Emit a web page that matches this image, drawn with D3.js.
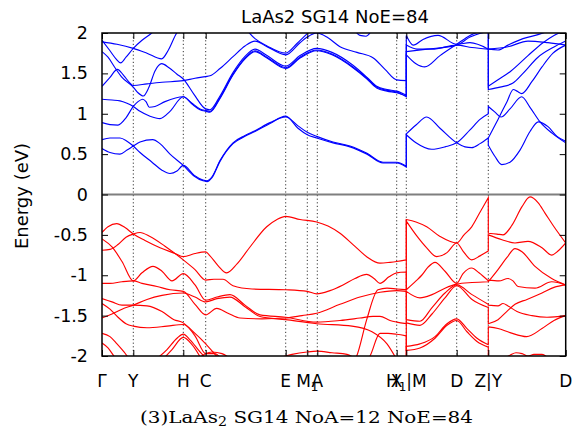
<!DOCTYPE html>
<html><head><meta charset="utf-8">
<script src="https://cdn.jsdelivr.net/npm/d3@7"></script>
<style>body{margin:0;background:#fff}svg{display:block}</style>
</head><body><svg id="chart" width="576" height="438"></svg>
<script>
// k-path positions (arbitrary path units) and labels
const kTicks = [0, 31.3, 81.3, 103.7, 183.7, 205.3, 215.3, 294.7, 304.3, 354.7, 386.3, 463.7];
const kLabels = ["Γ", "Y", "H", "C", "E", "M_1", "A", "X", "H_1|M", "D", "Z|Y", "D"];
const yTicks = [-2, -1.5, -1, -0.5, 0, 0.5, 1, 1.5, 2];
const yTickLabels = ["-2", "-1.5", "-1", "-0.5", "0", "0.5", "1", "1.5", "2"];

// conduction bands (eV), points [k, E]; equal consecutive k = discontinuity
const c1 = [[0,0.57],[8,0.52],[18,0.50],[25,0.55],[31.3,0.60],[38,0.65],[50.7,0.68],[58,0.63],[68,0.50],[81.3,0.36],[92,0.23],[101,0.17],[105,0.16],[110,0.21],[118,0.41],[131,0.63],[143,0.72],[153,0.78],[168,0.88],[183.7,0.97],[196,0.82],[205.3,0.74],[214.7,0.70],[231,0.64],[248,0.59],[265,0.50],[281,0.39],[294.7,0.39],[304.3,0.34],[304.3,0.75],[314,0.86],[324.7,0.96],[338,0.82],[354.7,0.64],[363,0.59],[369.7,0.58],[378,0.63],[386.3,0.70],[386.3,0.61],[393,0.47],[399.7,0.37],[408,0.40],[418,0.55],[428,0.78],[436.3,0.90],[446,0.84],[455,0.72],[463.7,0.66]];
const c2 = [[0,0.68],[8,0.70],[18,0.70],[25,0.66],[31.3,0.60],[38,0.52],[50,0.40],[60,0.30],[68,0.26],[75,0.29],[81.3,0.36],[92,0.24],[101,0.18],[105,0.17],[110,0.22],[118,0.42],[131,0.64],[143,0.73],[153,0.79],[168,0.89],[183.7,0.96],[196,0.85],[205.3,0.77],[214.7,0.72],[231,0.65],[248,0.60],[265,0.51],[281,0.40],[294.7,0.40],[304.3,0.35],[304.3,0.74],[314,0.64],[329.7,0.56],[343,0.59],[354.7,0.64],[368,0.80],[378,0.93],[386.3,1.00],[386.3,1.09],[393,1.02],[399,0.96],[408,1.06],[419.7,1.21],[428,1.08],[438,0.90],[450,0.76],[463.7,0.64]];
const c3 = [[0,0.89],[8,0.865],[16,0.86],[24,0.95],[31.3,1.09],[36,1.15],[40.7,1.18],[44,1.15],[47.3,1.08],[53,1.09],[63,1.15],[81.3,1.21],[90,1.13],[98,1.06],[104,1.04],[108,1.03],[118,1.20],[131,1.49],[143,1.69],[153,1.78],[165,1.70],[183.7,1.57],[198,1.70],[214.7,1.79],[230,1.74],[251,1.58],[265,1.44],[274.7,1.33],[285,1.29],[294.7,1.27],[304.3,1.21],[304.3,1.73],[314,1.62],[322.7,1.58],[338,1.72],[354.7,1.86],[368,1.97],[386.3,2.05],[386.3,1.34],[396,1.42],[409,1.53],[426,1.72],[441,1.88],[452,1.97],[463.7,2.03]];
const c4 = [[0,1.18],[10,1.17],[18,1.16],[25,1.13],[31.3,1.09],[38,1.03],[48,0.97],[58,0.94],[68,1.03],[81.3,1.21],[90,1.12],[98,1.05],[104,1.03],[108,1.02],[118,1.19],[131,1.48],[143,1.68],[153,1.77],[165,1.69],[183.7,1.56],[198,1.69],[214.7,1.78],[230,1.73],[251,1.57],[265,1.43],[274.7,1.32],[285,1.28],[294.7,1.26],[304.3,1.22],[304.3,1.77],[325,1.80],[354.7,1.85],[368,1.95],[386.3,2.02],[386.3,1.30],[398,1.33],[411,1.38],[421,1.50],[436,1.70],[451,1.82],[463.7,1.90]];
const c5 = [[0,1.77],[6,1.70],[13,1.57],[20,1.45],[31.3,1.33],[36,1.26],[41.3,1.22],[47,1.33],[53,1.53],[59.7,1.62],[67,1.57],[75,1.49],[81.3,1.43],[92,1.24],[103.7,1.06],[108,1.05],[118,1.22],[131,1.51],[143,1.71],[153,1.80],[165,1.72],[183.7,1.59],[198,1.72],[214.7,1.81],[230,1.76],[251,1.60],[265,1.45],[274.7,1.34],[285,1.30],[294.7,1.28],[304.3,1.23],[304.3,1.97],[311.3,1.85],[321,1.92],[336,1.97],[354.7,1.86],[368,1.88],[386.3,1.80],[386.3,1.80],[396,1.79],[406,1.85],[421,1.93],[436,1.98],[448,2.03]];
const c6 = [[0,1.34],[8,1.45],[15.3,1.55],[22,1.47],[28,1.38],[31.3,1.35],[45,1.37],[60,1.39],[81.3,1.41],[93,1.44],[103.7,1.46],[108,1.47],[118,1.56],[131.3,1.71],[143,1.84],[153,1.90],[165,1.83],[183.7,1.73],[198,1.88],[205.3,1.95],[214.7,2.00],[226,1.94],[238,1.83],[255,1.76],[271.3,1.69],[283,1.55],[294.7,1.42],[304.3,1.41],[304.3,1.85],[315,1.80],[330,1.80],[354.7,1.85],[370,1.82],[386.3,1.80],[386.3,1.80],[406,1.83],[426,1.90],[446,1.88],[463.7,1.85]];
const c7 = [[0,1.91],[8,1.78],[14,1.68],[18.7,1.63],[24,1.70],[31.3,1.81],[40,1.91],[49.7,2.00],[55,2.06]];
const c8 = [[0,1.89],[15,1.86],[31.3,1.81],[45,1.75],[59.7,1.68],[66,1.78],[74.7,2.00],[80,2.08]];
const c9 = [[143,2.06],[153,1.93],[165,1.84],[183.7,1.75],[195,1.87],[205,1.99],[212,2.07]];
const c10 = [[251,2.06],[258,1.97],[264,1.96],[271,2.06]];
const c11 = [[386.3,0.70],[396,0.93],[405,1.15],[411.3,1.30],[415,1.28],[419.7,1.25],[430,1.40],[440,1.58],[451,1.75],[463.7,1.85]];

// valence bands (eV)
const v1 = [[0,-0.47],[6,-0.40],[14.7,-0.36],[23,-0.41],[31.3,-0.49],[43,-0.57],[58,-0.66],[73,-0.73],[81.3,-0.77],[93,-0.73],[103.7,-0.71],[108,-0.76],[116,-0.88],[124.7,-0.97],[135,-0.86],[148,-0.65],[164.7,-0.40],[175,-0.31],[183.7,-0.27],[198,-0.31],[214.7,-0.34],[226,-0.39],[238,-0.48],[251,-0.62],[264.7,-0.77],[278,-0.85],[288,-0.84],[294.7,-0.83],[304.3,-0.81],[304.3,-0.31],[314,-0.34],[324.7,-0.40],[338,-0.52],[354.7,-0.60],[362,-0.50],[369.7,-0.40],[378,-0.22],[386.3,-0.04],[386.3,-0.48],[395,-0.49],[401,-0.50],[410,-0.38],[420,-0.15],[428,-0.03],[436,-0.10],[443,-0.23],[452,-0.40],[463.7,-0.60]];
const v2 = [[0,-0.69],[8,-0.68],[16,-0.62],[24,-0.53],[31.3,-0.49],[38,-0.47],[48,-0.52],[63,-0.64],[81.3,-0.81],[93,-0.93],[103.7,-1.06],[112,-1.05],[121,-1.05],[131,-1.13],[150,-1.17],[183.7,-1.18],[205.3,-1.20],[214.7,-1.23],[228,-1.19],[241,-1.12],[253,-1.04],[264.7,-0.99],[272,-1.04],[278,-1.10],[287,-1.02],[294.7,-0.97],[304.3,-0.96],[304.3,-1.18],[314,-1.07],[319.7,-1.00],[326,-0.90],[333,-0.84],[343,-0.95],[354.7,-1.10],[361,-0.98],[369.7,-0.91],[377,-0.97],[386.3,-1.07],[386.3,-1.06],[397,-1.07],[406,-1.04],[411,-1.07],[416,-1.14],[433,-1.16],[449.7,-1.08],[463.7,-1.12]];
const v3 = [[0,-0.55],[10,-0.65],[20,-0.83],[31.3,-1.07],[40,-0.97],[51,-0.89],[60,-0.95],[70,-1.07],[81.3,-0.98],[93,-1.12],[103.7,-1.31],[115,-1.27],[128,-1.24],[143,-1.37],[158,-1.49],[183.7,-1.52],[214.7,-1.58],[238,-1.56],[258,-1.53],[271,-1.51],[278,-1.51],[288,-1.56],[294.7,-1.58],[304.3,-1.60],[304.3,-1.20],[318,-1.28],[330,-1.24],[343,-1.16],[354.7,-1.11],[370,-1.09],[386.3,-1.08],[386.3,-1.08],[396,-0.93],[405,-0.78],[413,-0.67],[420,-0.71],[433,-0.89],[449.7,-1.04],[463.7,-1.12]];
const v4 = [[0,-1.10],[8,-1.10],[20,-1.08],[31.3,-1.07],[40,-1.10],[55,-1.14],[68,-1.18],[81.3,-1.20],[93,-1.36],[103.7,-1.49],[114.7,-1.41],[126,-1.47],[138,-1.53],[160,-1.54],[183.7,-1.53],[200,-1.50],[214.7,-1.47],[238,-1.36],[258,-1.27],[278,-1.21],[294.7,-1.19],[304.3,-1.20],[304.3,-1.55],[318,-1.57],[330,-1.40],[343,-1.22],[354.7,-1.12],[370,-1.24],[386.3,-1.36],[386.3,-1.37],[396,-1.38],[401,-1.35],[406,-1.38],[415,-1.45],[430,-1.50],[445,-1.52],[463.7,-1.50]];
const v5 = [[250,-2.1],[254.7,-2.0],[264.7,-1.55],[276,-1.18],[285,-1.16],[294.7,-1.17],[304.3,-1.18],[304.3,-0.33],[314,-0.50],[324.7,-0.66],[334.7,-0.77],[345,-0.72],[354.7,-0.60],[361,-0.70],[369.7,-0.81],[378,-0.76],[386.3,-0.70],[386.3,-0.50],[400,-0.56],[413,-0.60],[426,-0.58],[440,-0.66],[449.7,-0.75],[456,-0.70],[463.7,-0.60]];
const v6 = [[262,-2.1],[268,-2.0],[278,-1.72],[286,-1.72],[294.7,-1.73],[304.3,-1.75],[304.3,-1.93],[318,-1.90],[333,-1.78],[345,-1.62],[354.7,-1.56],[365,-1.70],[375,-1.82],[386.3,-1.89],[386.3,-2.05],[400,-2.04],[408,-1.99],[414,-1.96],[420,-1.97],[426,-2.0],[432,-1.98],[440,-1.98],[448,-2.05]];
const v7 = [[0,-1.29],[10,-1.33],[20,-1.37],[31.3,-1.37],[45,-1.38],[60,-1.45],[72,-1.55],[81.3,-1.59],[93,-1.75],[103.7,-1.97],[113,-1.97],[120,-2.05]];
const v8 = [[0,-1.35],[8,-1.42],[16,-1.52],[24,-1.60],[31.3,-1.63],[45,-1.65],[65,-1.63],[81.3,-1.61],[93,-1.72],[103.7,-1.85],[113,-1.98],[120,-2.08]];
const v9 = [[0,-1.53],[10,-1.48],[20,-1.42],[31.3,-1.37],[45,-1.30],[60,-1.25],[81.3,-1.22],[93,-1.27],[103.7,-1.33],[115,-1.29],[128,-1.27],[143,-1.39],[158,-1.51],[183.7,-1.55],[214.7,-1.60],[250,-1.63],[270,-1.70],[285,-1.85],[295,-2.05]];
const v10 = [[0,-1.72],[8,-1.76],[15,-1.85],[22,-1.95],[28,-2.05]];
const v11 = [[0,-1.84],[6,-1.90],[12,-2.0],[18,-2.08]];
const v12 = [[50,-2.08],[65,-1.92],[75,-1.78],[81.3,-1.73],[88,-1.80],[98,-1.95],[106,-2.05]];
const v13 = [[58,-2.08],[70,-1.92],[81.3,-1.77],[90,-1.86],[100,-2.05]];
const v14 = [[170,-2.05],[190,-1.98],[205,-1.95],[215,-1.94],[230,-1.96],[245,-1.98],[255,-2.05]];
const v15 = [[95,-2.05],[103.7,-1.97],[110,-1.95],[120,-1.97],[130,-2.05]];
const v16 = [[296,-2.1],[304.3,-2.05],[304.3,-1.59],[318,-1.62],[330,-1.48],[343,-1.28],[354.7,-1.13],[370,-1.30],[386.3,-1.40],[386.3,-1.60],[396,-1.55],[404.7,-1.45],[413,-1.36],[425,-1.30],[440,-1.22],[452,-1.15],[463.7,-1.12]];
const v17 = [[296,-2.15],[304.3,-2.1],[304.3,-1.88],[318,-1.85],[333,-1.76],[345,-1.60],[354.7,-1.54],[365,-1.66],[375,-1.78],[386.3,-1.86],[386.3,-1.64],[396,-1.66],[408,-1.71],[424.7,-1.76],[440,-1.66],[452,-1.56],[463.7,-1.50]];

const conductionBands = [c1, c2, c3, c4, c5, c6, c7, c8, c9, c10, c11];
const valenceBands = [v1, v2, v3, v4, v5, v6, v7, v8, v9, v10, v11, v12, v13, v14, v15, v16, v17];

const svg = d3.select("#chart");
const pL = 102, pR = 565.7, pT = 33, pB = 356;
const x = d3.scaleLinear().domain([0, 463.7]).range([pL, pR]);
const y = d3.scaleLinear().domain([-2, 2]).range([pB, pT]);
const sans = "DejaVu Sans, Liberation Sans, sans-serif";

svg.append("defs").append("clipPath").attr("id", "clip")
  .append("rect").attr("x", pL).attr("y", pT).attr("width", pR - pL).attr("height", pB - pT);

// vertical dotted lines at high symmetry points
svg.append("g").selectAll("line").data(kTicks.slice(1, -1)).join("line")
  .attr("x1", d => x(d)).attr("x2", d => x(d)).attr("y1", pT).attr("y2", pB)
  .attr("stroke", "#000").attr("stroke-width", 0.8).attr("stroke-dasharray", "1.2,2.4");

// zero line
svg.append("line").attr("x1", pL).attr("x2", pR).attr("y1", y(0)).attr("y2", y(0))
  .attr("stroke", "#7f7f7f").attr("stroke-width", 2);

const line = d3.line().x(d => x(d[0])).y(d => y(d[1])).curve(d3.curveMonotoneX);
function bandPath(pts) {
  const runs = []; let cur = [pts[0]];
  for (let i = 1; i < pts.length; i++) {
    if (pts[i][0] === pts[i - 1][0]) { runs.push(cur); cur = [pts[i]]; } else cur.push(pts[i]);
  }
  runs.push(cur);
  let d = "";
  runs.forEach((r, i) => {
    let s = r.length > 1 ? line(r) : `M${x(r[0][0])},${y(r[0][1])}`;
    if (i > 0) s = "L" + s.slice(1);
    d += s;
  });
  return d;
}
const bands = svg.append("g").attr("clip-path", "url(#clip)").attr("fill", "none");
bands.selectAll("path.v").data(valenceBands).join("path").attr("class", "v")
  .attr("d", bandPath).attr("stroke", "#ff0000").attr("stroke-width", 1.15);
bands.selectAll("path.c").data(conductionBands).join("path").attr("class", "c")
  .attr("d", bandPath).attr("stroke", "#0000ff").attr("stroke-width", 1.15);

// axes
const yl = svg.append("g").attr("transform", `translate(${pL},0)`)
  .call(d3.axisLeft(y).tickValues(yTicks).tickSize(-6).tickPadding(14).tickFormat((d, i) => yTickLabels[i]));
const yr = svg.append("g").attr("transform", `translate(${pR},0)`)
  .call(d3.axisRight(y).tickValues(yTicks).tickSize(-6).tickFormat(""));
const xb = svg.append("g").attr("transform", `translate(0,${pB})`)
  .call(d3.axisBottom(x).tickValues(kTicks).tickSize(-6).tickFormat(""));
const xt = svg.append("g").attr("transform", `translate(0,${pT})`)
  .call(d3.axisTop(x).tickValues(kTicks).tickSize(-6).tickFormat(""));
[yl, yr, xb, xt].forEach(g => {
  g.select(".domain").remove();
  g.selectAll(".tick line").attr("stroke", "#000").attr("stroke-width", 1);
});
yl.selectAll(".tick text").attr("font-family", sans).attr("font-size", 17.5).attr("fill", "#000");

// frame
svg.append("rect").attr("x", pL).attr("y", pT).attr("width", pR - pL).attr("height", pB - pT)
  .attr("fill", "none").attr("stroke", "#000").attr("stroke-width", 1.5);

// x labels
const xl = svg.append("g").attr("font-family", sans).attr("font-size", 17).attr("text-anchor", "middle");
kTicks.forEach((k, i) => {
  const t = xl.append("text").attr("x", x(k)).attr("y", 387);
  const lab = kLabels[i];
  const p = lab.indexOf("_");
  if (p < 0) t.text(lab);
  else {
    t.append("tspan").text(lab.slice(0, p));
    t.append("tspan").attr("font-size", 12).attr("dy", 4).text(lab[p + 1]);
    if (lab.length > p + 2) t.append("tspan").attr("dy", -4).text(lab.slice(p + 2));
  }
});

// y label
svg.append("text").attr("transform", "translate(28,196) rotate(-90)").attr("text-anchor", "middle")
  .attr("font-family", sans).attr("font-size", 18).text("Energy (eV)");

// title
svg.append("text").attr("x", 335).attr("y", 23).attr("text-anchor", "middle")
  .attr("font-family", sans).attr("font-size", 18).text("LaAs2 SG14 NoE=84");

// caption
const cap = svg.append("text").attr("x", 306.5).attr("y", 423).attr("text-anchor", "middle")
  .attr("font-family", "DejaVu Serif, Liberation Serif, serif").attr("font-size", 17.5).attr("fill", "#000")
  .attr("textLength", 333).attr("lengthAdjust", "spacingAndGlyphs");
cap.append("tspan").text("(3)LaAs");
cap.append("tspan").attr("font-size", 12.5).attr("dy", 3).text("2");
cap.append("tspan").attr("dy", -3).text(" SG14 NoA=12 NoE=84");
</script></body></html>
